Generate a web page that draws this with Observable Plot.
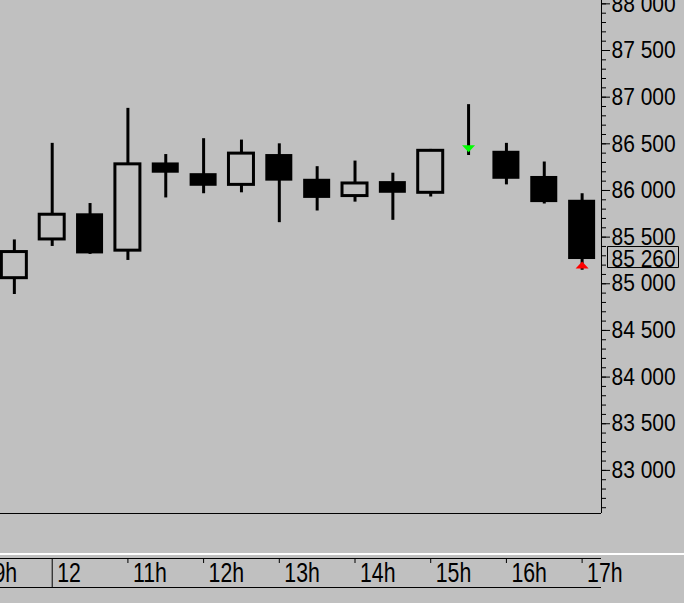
<!DOCTYPE html>
<html><head><meta charset="utf-8">
<script src="https://cdn.jsdelivr.net/npm/d3@7"></script>
<script src="https://cdn.jsdelivr.net/npm/@observablehq/plot@0.6"></script>
<style>
html,body{margin:0;padding:0;background:#c0c0c0;width:684px;height:603px;overflow:hidden}
#sep{height:2px;background:#ffffff}
svg{display:block}
</style></head><body><div id="main"></div><div id="sep"></div><div id="strip"></div>
<script>
// 30-minute candles (time in hours)
const times  = [9.5, 10, 10.5, 11, 11.5, 12, 12.5, 13, 13.5, 14, 14.5, 15, 15.5, 16, 16.5, 17];
const opens  = [85060, 85475, 85750, 85355, 86295, 86180, 86060, 86385, 86120, 85940, 86095, 85975, 86425, 86420, 86150, 85895];
const highs  = [85470, 86505, 85860, 86880, 86385, 86555, 86540, 86500, 86255, 86315, 86185, 86440, 86920, 86505, 86305, 85965];
const lows   = [84885, 85400, 85315, 85250, 85920, 85965, 85975, 85655, 85780, 85875, 85680, 85930, 86375, 86060, 85855, 85145];
const closes = [85340, 85740, 85320, 86280, 86185, 86045, 86395, 86100, 85915, 86075, 85970, 86425, 86425, 86120, 85870, 85260];

const yTicks = [83000, 83500, 84000, 84500, 85000, 85500, 86000, 86500, 87000, 87500, 88000];
const hourTicks  = [9, 10, 11, 12, 13, 14, 15, 16, 17];
const hourLabels = ["9h", "12", "11h", "12h", "13h", "14h", "15h", "16h", "17h"];
const dayBreak = 10;
const lastPrice = 85260;

const signalTimes  = [15.5, 17];
const signalValues = [86447, 85201];
const signalDirs   = ["down", "up"];
const signalColors = ["#00ff00", "#ff0000"];

const X_DOMAIN = [9.317, 17.256];
const Y_DOMAIN = [82538, 88036];

const candles = times.map((t, i) => ({t, open: opens[i], high: highs[i], low: lows[i], close: closes[i]}));
const signals = signalTimes.map((t, i) => ({t, v: signalValues[i], dir: signalDirs[i], color: signalColors[i]}));
const hourData = hourTicks.map((h, i) => ({h, label: hourLabels[i], first: i === 0}));

const FONT = "'Liberation Sans',Arial,sans-serif";
const fmt = v => d3.format(",")(v).replace(/,/g, " ");

const triDown = {draw(ctx) { ctx.moveTo(-6.5, -3.5); ctx.lineTo(6.5, -3.5); ctx.lineTo(0, 3.5); ctx.closePath(); }};
const triUp   = {draw(ctx) { ctx.moveTo(0, -3.5); ctx.lineTo(-6.5, 3.5); ctx.lineTo(6.5, 3.5); ctx.closePath(); }};
const boxSym  = {draw(ctx) { ctx.moveTo(-35.5, -10.5); ctx.lineTo(35.5, -10.5); ctx.lineTo(35.5, 10.5); ctx.lineTo(-35.5, 10.5); ctx.closePath(); }};

const minorTicks = d3.range(Math.ceil(Y_DOMAIN[0] / 100) * 100, Y_DOMAIN[1], 100);

const main = Plot.plot({
  width: 684, height: 553,
  marginTop: 0, marginLeft: 0, marginRight: 83, marginBottom: 40,
  x: {domain: X_DOMAIN, axis: null},
  y: {domain: Y_DOMAIN, axis: null},
  style: {background: "transparent", overflow: "hidden", fontFamily: FONT, color: "black"},
  marks: [
    Plot.ruleY([Y_DOMAIN[0]], {stroke: "black"}),
    Plot.ruleX([X_DOMAIN[1]], {stroke: "black"}),
    Plot.axisY({anchor: "right", ticks: minorTicks, tickSize: 4, tickFormat: null, text: null, label: null, stroke: "black"}),
    Plot.axisY({anchor: "right", ticks: yTicks, tickSize: 8, tickPadding: 2, tickFormat: fmt, label: null, fontSize: 24, fill: "black", stroke: "black"}),
    Plot.ruleX(candles, {x: "t", y1: "low", y2: "high", stroke: "black", strokeWidth: 3}),
    Plot.rect(candles, {filter: d => d.close >= d.open, x1: "t", x2: "t", y1: "open", y2: "close",
      insetLeft: -12.5, insetRight: -12.5, fill: "#c0c0c0", stroke: "black", strokeWidth: 3}),
    Plot.rect(candles, {filter: d => d.close < d.open, x1: "t", x2: "t", y1: "open", y2: "close",
      insetLeft: -13.5, insetRight: -13.5, fill: "black"}),
    Plot.dot(signals, {filter: d => d.dir === "down", x: "t", y: "v", symbol: triDown, fill: "color", stroke: "none"}),
    Plot.dot(signals, {filter: d => d.dir === "up", x: "t", y: "v", symbol: triUp, fill: "color", stroke: "none"}),
    Plot.dot([lastPrice], {y: d => d, frameAnchor: "right", dx: 41.5, dy: -2.5, symbol: boxSym, fill: "none", stroke: "black", strokeWidth: 1}),
    Plot.text([lastPrice], {y: d => d, frameAnchor: "right", dx: 10, textAnchor: "start", text: fmt, fontSize: 24, fill: "black"})
  ]
});
document.getElementById("main").append(main);

const strip = Plot.plot({
  width: 684, height: 48,
  marginTop: 3, marginLeft: 0, marginRight: 83, marginBottom: 16,
  x: {domain: X_DOMAIN, axis: null},
  y: {domain: [0, 1], axis: null},
  style: {background: "transparent", overflow: "hidden", fontFamily: FONT, color: "black"},
  marks: [
    Plot.ruleY([0, 1], {stroke: "black"}),
    Plot.tickX(hourTicks.filter(h => h !== dayBreak), {x: d => d, insetBottom: 24, stroke: "black"}),
    Plot.ruleX([dayBreak], {stroke: "black"}),
    Plot.text(hourData, {filter: d => !d.first, x: "h", text: "label", textAnchor: "start", dx: 5, fontSize: 28, fill: "black"}),
    Plot.text(hourData, {filter: d => d.first, x: "h", text: "label", textAnchor: "start", dx: 17, fontSize: 28, fill: "black"})
  ]
});
document.getElementById("strip").append(strip);

// condense the glyphs to mimic the narrow bitmap font of the original
function condense(svg, factor) {
  svg.querySelectorAll("text").forEach(t => {
    const w = t.getComputedTextLength();
    if (w > 0) {
      t.setAttribute("textLength", (w * factor).toFixed(1));
      t.setAttribute("lengthAdjust", "spacingAndGlyphs");
    }
  });
}
condense(main, 0.875);
condense(strip, 0.76);
</script></body></html>
